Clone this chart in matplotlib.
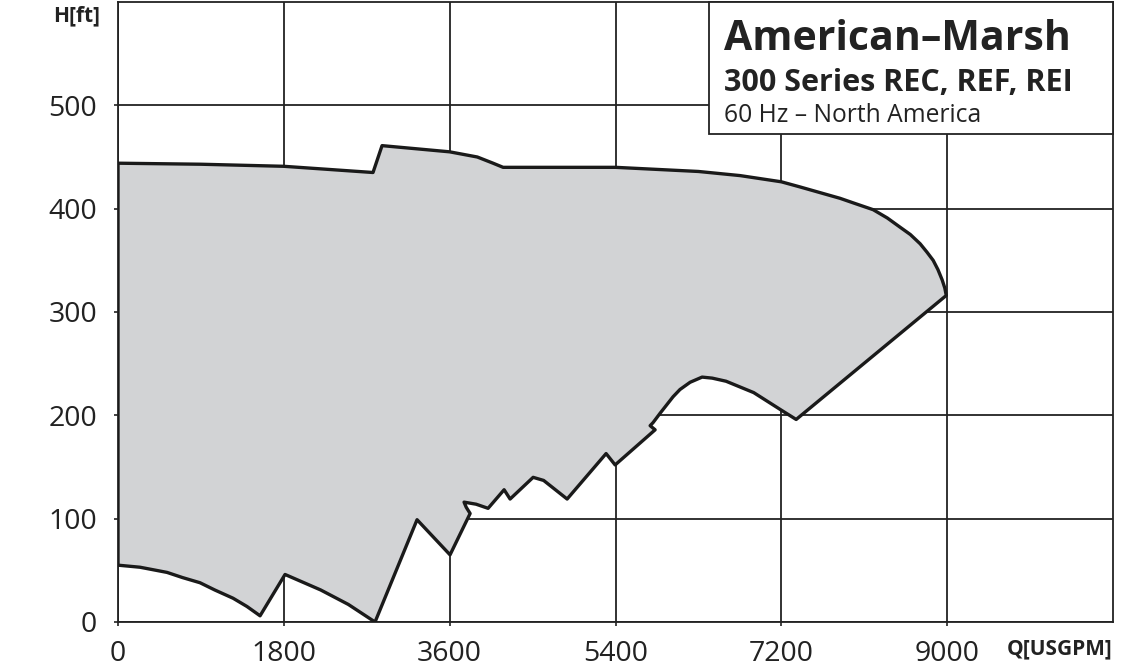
import matplotlib
matplotlib.use("Agg")
import matplotlib.pyplot as plt
from matplotlib.patches import Rectangle

plt.rcParams['font.family'] = ['Open Sans', 'DejaVu Sans']

# Operating envelope outline (Q [USGPM], H [ft]), clockwise from bottom-left
outline_q = [0, 0, 900, 1800, 2768, 2866, 3600, 3900, 4071, 4180, 5400, 6300, 6753, 7200,
             7404, 7838, 8000, 8197, 8350, 8490, 8600, 8707, 8780, 8848, 8900, 8946, 8975, 8990,
             7361, 7200, 6900, 6600, 6450, 6340, 6210, 6100, 6025, 5884, 5808, 5776, 5830, 5396,
             5298, 4875, 4620, 4506, 4256, 4191, 4017, 3887, 3756, 3780, 3822, 3604,
             3246, 2790, 2500, 2200, 1813, 1542, 1400, 1249, 1050, 890, 700, 532, 239, 0]
outline_h = [55, 444, 443, 441, 435, 461, 455, 450, 444, 440, 440, 436, 432, 426,
             421, 410, 405, 399, 391, 382, 375, 366, 358, 350, 341, 331, 323, 316,
             196, 205, 222, 233, 236, 237, 232, 225, 218, 202, 193, 190, 186, 152,
             163, 119, 137, 140, 119, 128, 110, 114, 116, 111, 105, 65,
             99, 0, 17, 31, 46, 6, 15, 23, 31, 38, 43, 48, 53, 55]

x_ticks = [0, 1800, 3600, 5400, 7200, 9000]
y_ticks = [0, 100, 200, 300, 400, 500]
x_label = "Q[USGPM]"
y_label = "H[ft]"
title_lines = ["American\u2013Marsh", "300 Series REC, REF, REI", "60 Hz \u2013 North America"]

fig = plt.figure(figsize=(11.4, 6.72), dpi=100)
ax = fig.add_axes([118/1140, 1 - 622/672, (1113-118)/1140, (622-2)/672])
ax.set_xlim(0, 10800)
ax.set_ylim(0, 600)

ax.set_xticks(x_ticks)
ax.set_yticks(y_ticks)
ax.tick_params(axis='both', which='major', labelsize=20.5, length=3, width=1.2, color='#222222',
               labelcolor='#222222')
ax.tick_params(axis='x', pad=10)
ax.tick_params(axis='y', pad=12)
ax.grid(True, which='major', color='#222222', linewidth=1.3)
ax.set_axisbelow(True)
for s in ax.spines.values():
    s.set_color('#222222')
    s.set_linewidth(1.3)

ax.fill(outline_q, outline_h, facecolor='#d2d3d5', edgecolor='#1a1a1a', linewidth=2.4,
        joinstyle='round', zorder=3)

# Title box
box = Rectangle((6416, 472), 10800 - 6416, 600 - 472, facecolor='white', edgecolor='#222222',
                linewidth=1.3, zorder=5, clip_on=False)
ax.add_patch(box)
ax.text(6580, 554, title_lines[0], fontsize=29.5, fontweight='bold', color='#222222',
        va='baseline', ha='left', zorder=6)
ax.text(6580, 513.5, title_lines[1], fontsize=22, fontweight='bold', color='#222222',
        va='baseline', ha='left', zorder=6)
ax.text(6580, 483.6, title_lines[2], fontsize=17.7, color='#222222',
        va='baseline', ha='left', zorder=6)

fig.text(100/1140, 1 - 16/672, y_label, fontsize=15, fontweight='bold', color='#222222',
         ha='right', va='center')
fig.text(1113/1140, 1 - 649/672, x_label, fontsize=15, fontweight='bold', color='#222222',
         ha='right', va='center')

fig.savefig("out.png", dpi=100)
